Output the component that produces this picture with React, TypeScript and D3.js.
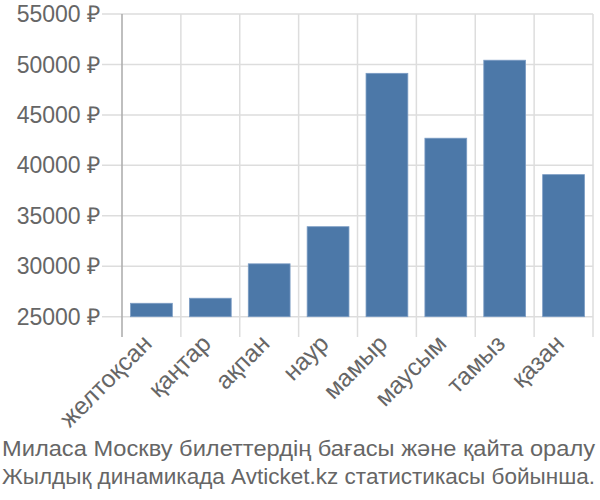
import React from "react";
import * as d3 from "d3";

const categories = ["желтоқсан", "қаңтар", "ақпан", "наур", "мамыр", "маусым", "тамыз", "қазан"];
const prices = [26330, 26830, 30240, 33920, 49120, 42690, 50420, 39080];
const yTicks = [25000, 30000, 35000, 40000, 45000, 50000, 55000];
const titleLines = [
  "Миласа Москву билеттердің бағасы және қайта оралу",
  "Жылдық динамикада Avticket.kz статистикасы бойынша.",
];

export default function App() {
  const W = 600, H = 500;
  const left = 122, right = 593, top = 14, base = 316.7, gridBottom = 337;
  const x = d3.scaleBand<string>().domain(categories).range([left, right]).paddingInner(0.29).paddingOuter(0.145);
  const xGrid = d3.scaleBand<string>().domain(categories).range([left, right]);
  const y = d3.scaleLinear().domain([25000, 55000]).range([base, top]);
  const font = "'Liberation Sans', Arial, sans-serif";
  const textColor = "#666";
  return (
    <svg width={W} height={H} style={{ position: "absolute", left: 0, top: 0 }} fontFamily={font}>
      <rect width={W} height={H} fill="#fff" />
      {categories.map((c, i) => (
        <line key={"vg" + i} x1={xGrid(c)! + xGrid.bandwidth()} x2={xGrid(c)! + xGrid.bandwidth()} y1={top} y2={gridBottom} stroke="#ddd" strokeWidth={1.5} />
      ))}
      {yTicks.map((t) => (
        <line key={"hg" + t} x1={102} x2={right} y1={y(t)} y2={y(t)} stroke="#ddd" strokeWidth={1.5} />
      ))}
      <line x1={left} x2={left} y1={top} y2={gridBottom} stroke="#aaa" strokeWidth={1.5} />
      {categories.map((c, i) => (
        <rect key={"b" + i} x={x(c)} y={y(prices[i])} width={x.bandwidth()} height={base - y(prices[i])} fill="#4c78a8" stroke="#7b9cc4" strokeWidth={0.8} />
      ))}
      {yTicks.map((t) => (
        <text key={"yt" + t} x={100} y={y(t)} dy="0.35em" textAnchor="end" fontSize={23} fill={textColor}>
          {t} ₽
        </text>
      ))}
      {categories.map((c, i) => {
        const cx = xGrid(c)! + xGrid.bandwidth() / 2 + 2;
        const cy = 345;
        return (
          <text key={"xt" + i} transform={`translate(${cx},${cy}) rotate(-45)`} textAnchor="end" fontSize={24.5} fill={textColor}>
            {c}
          </text>
        );
      })}
      {titleLines.map((l, i) => (
        <text key={"t" + i} x={2} y={456 + i * 28} fontSize={22.5} textLength={593} lengthAdjust="spacingAndGlyphs" fill={textColor}>
          {l}
        </text>
      ))}
    </svg>
  );
}
